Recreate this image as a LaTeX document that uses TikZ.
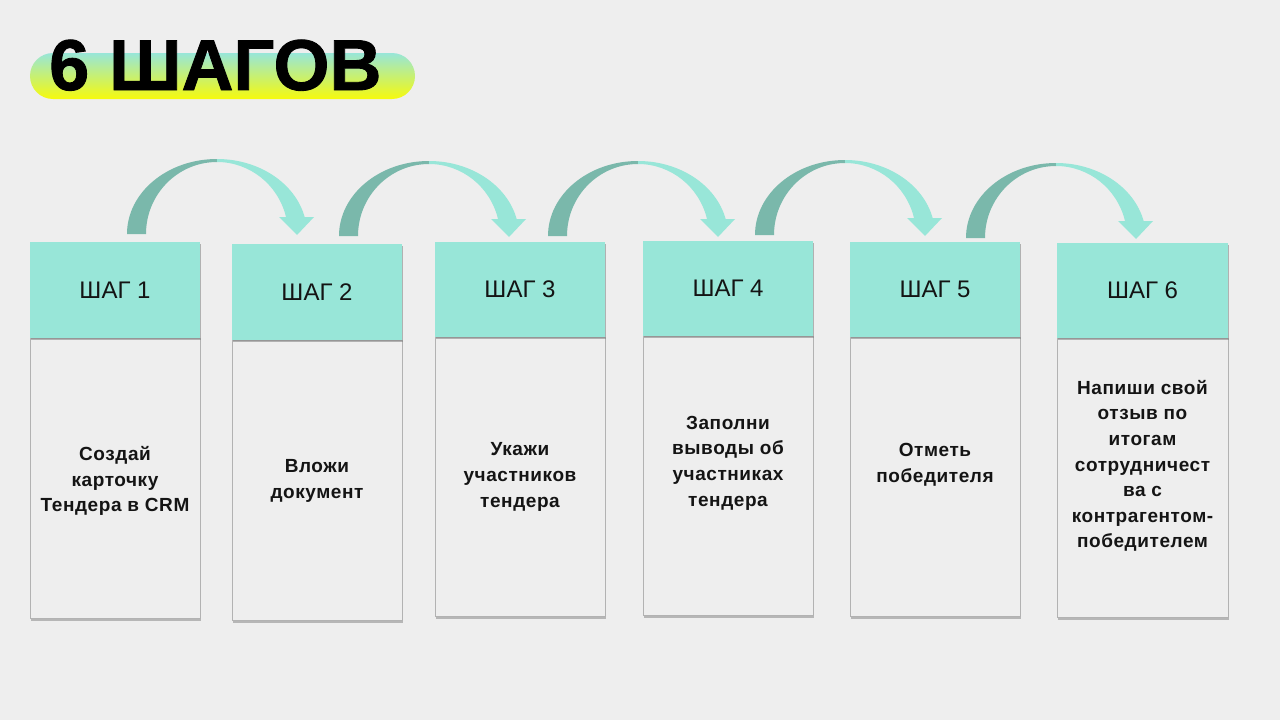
\documentclass[tikz,border=0pt]{standalone}
\usepackage{fontspec}
\setmainfont{Liberation Sans}
\usepackage{tikz}
\usetikzlibrary{shadows}

\definecolor{paper}{RGB}{238,238,238}
\definecolor{mint}{RGB}{152,230,216}
\definecolor{mintdark}{RGB}{122,184,171}
\definecolor{lemon}{RGB}{246,250,12}
\definecolor{ink}{RGB}{20,20,20}

% curved step arrow, (#1,#2) = centre of the arc at its foot
\newcommand{\bentarrow}[2]{%
  \begin{scope}[shift={(#1,#2)}]
    \fill[mintdark] (-90,0) arc[start angle=180, end angle=90, x radius=90, y radius=75]
        -- (0,72) arc[start angle=90, end angle=180, x radius=71, y radius=72] -- cycle;
    \fill[mint] (0,75) arc[start angle=90, end angle=13.1, x radius=90, y radius=75]
        -- (97,17) -- (80,-1) -- (62,17) -- (69,17)
        arc[start angle=13.66, end angle=90, x radius=71, y radius=72] -- cycle;
  \end{scope}}

\begin{document}
\begin{tikzpicture}[x=1pt, y=1pt,
  stephead/.style={fill=mint, minimum width=170, minimum height=96, inner sep=0,
    text=ink, font=\fontsize{24}{28}\selectfont,
    drop shadow={shadow xshift=0.8pt, shadow yshift=-2.2pt, opacity=0.55}},
  stepbody/.style={fill=paper, draw=black!30, line width=0.8pt, minimum width=170,
    minimum height=280, inner sep=0,
    drop shadow={shadow xshift=1.2pt, shadow yshift=-3pt, opacity=0.5}},
  steptext/.style={align=center, text=ink, inner sep=0,
    font=\fontsize{19}{25.6}\selectfont\bfseries\addfontfeature{LetterSpace=3}}]
  \useasboundingbox (0,0) rectangle (1280,-720);
  \fill[paper] (0,0) rectangle (1280,-720);

  % title
  \shade[top color=mint, bottom color=lemon, rounded corners=23] (30,-53) rectangle (415,-99);
  \node[anchor=base west, inner sep=0,
        font=\fontsize{72}{80}\selectfont\bfseries\addfontfeature{FakeBold=1.2}] (title)
        at (49,-90) {6 ШАГОВ};

  % arrows
  \bentarrow{217}{-234}
  \bentarrow{429}{-236}
  \bentarrow{638}{-236}
  \bentarrow{845}{-235}
  \bentarrow{1056}{-238}

  % bodies
  \node[stepbody] (body1) at (115,-478) {};
  \node[stepbody] (body2) at (317,-480) {};
  \node[stepbody, minimum height=279] (body3) at (520,-476.5) {};
  \node[stepbody, minimum height=279] (body4) at (728,-475.5) {};
  \node[stepbody, minimum height=279] (body5) at (935,-476.5) {};
  \node[stepbody, minimum height=279, minimum width=171] (body6) at (1142.5,-477.5) {};

  % headers
  \node[stephead] (head1) at (115,-290) {ШАГ 1};
  \node[stephead] (head2) at (317,-292) {ШАГ 2};
  \node[stephead, minimum height=95] (head3) at (520,-289.5) {ШАГ 3};
  \node[stephead, minimum height=95] (head4) at (728,-288.5) {ШАГ 4};
  \node[stephead, minimum height=95] (head5) at (935,-289.5) {ШАГ 5};
  \node[stephead, minimum height=95, minimum width=171] (head6) at (1142.5,-290.5) {ШАГ 6};

  % texts
  \node[steptext] (txt1) at (115,-481) {Создай\\карточку\\Тендера в CRM};
  \node[steptext] (txt2) at (317,-481) {Вложи\\документ};
  \node[steptext] (txt3) at (520,-477) {Укажи\\участников\\тендера};
  \node[steptext] (txt4) at (728,-463) {Заполни\\выводы об\\участниках\\тендера};
  \node[steptext] (txt5) at (935,-465) {Отметь\\победителя};
  \node[steptext] (txt6) at (1142.5,-466) {Напиши свой\\отзыв по\\итогам\\сотрудничест\\ва с\\контрагентом-\\победителем};
\end{tikzpicture}
\end{document}
